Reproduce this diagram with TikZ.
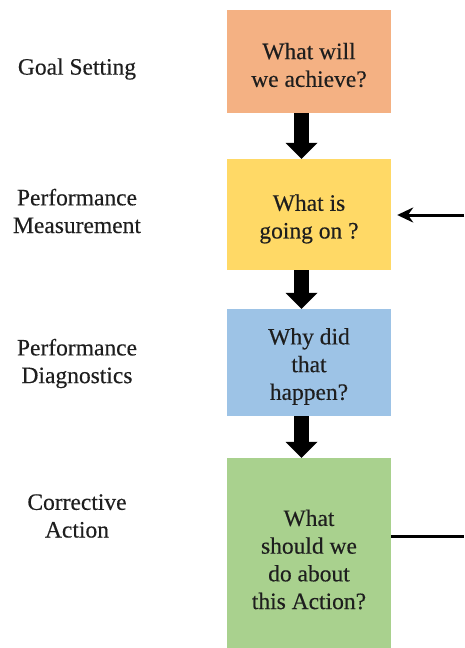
\documentclass[tikz,border=0pt]{standalone}
\usepackage{fontspec}
\setmainfont{Liberation Serif}
\newfontfamily\tnr{Liberation Serif}[FakeBold=0.35]
\usetikzlibrary{arrows.meta}
\definecolor{cOrange}{HTML}{F4B183}
\definecolor{cYellow}{HTML}{FFD966}
\definecolor{cBlue}{HTML}{9DC3E6}
\definecolor{cGreen}{HTML}{A9D18E}
\definecolor{cText}{HTML}{1E1E1E}
\tikzset{
  box/.style={rectangle, draw=none, minimum width=164pt, inner sep=0pt},
  txt/.style={align=center, text=cText, inner sep=0pt, font=\tnr\fontsize{23.5}{27.7}\selectfont},
  blockarrow/.style={line width=15pt, -{Triangle[length=16pt,width=32pt,line width=0pt]}},
  feed/.style={line width=3pt},
}
\begin{document}
\begin{tikzpicture}[x=1pt,y=-1pt]
\useasboundingbox (0,0) rectangle (464,648);
\node[box, fill=cOrange, minimum height=103pt] (b1) at (309,61.5) {};
\node[box, fill=cYellow, minimum height=111pt] (b2) at (309,214.5) {};
\node[box, fill=cBlue, minimum height=107pt] (b3) at (309,362.5) {};
\node[box, fill=cGreen, minimum height=190pt] (b4) at (309,553) {};
\node[txt] (t1) at (309,65) {What will\\we achieve?};
\node[txt] (t2) at (309,219) {What is\\going on ?};
\node[txt] (t3) at (309,366.5) {Why did\\that\\happen?};
\node[txt] (t4) at (309,559.5) {What\\should we\\do about\\this Action?};
\node[txt] (l1) at (77,69) {Goal Setting};
\node[txt] (l2) at (77,211) {Performance\\Measurement};
\node[txt] (l3) at (77,363.5) {Performance\\Diagnostics};
\node[txt] (l4) at (77,516) {Corrective\\Action};
\coordinate (ax) at (301.5,0);
\draw[blockarrow] (b1.south -| ax) -- (b2.north -| ax);
\draw[blockarrow] (b2.south -| ax) -- (b3.north -| ax);
\draw[blockarrow] (b3.south -| ax) -- (b4.north -| ax);
\coordinate (rin) at (464,215);
\coordinate (rout) at (464,536);
\draw[feed, -{Stealth[length=16pt,width=15pt]}, shorten >=6pt] (rin) -- (b2.east |- rin);
\draw[feed] (b4.east |- rout) -- (rout);
\end{tikzpicture}
\end{document}
